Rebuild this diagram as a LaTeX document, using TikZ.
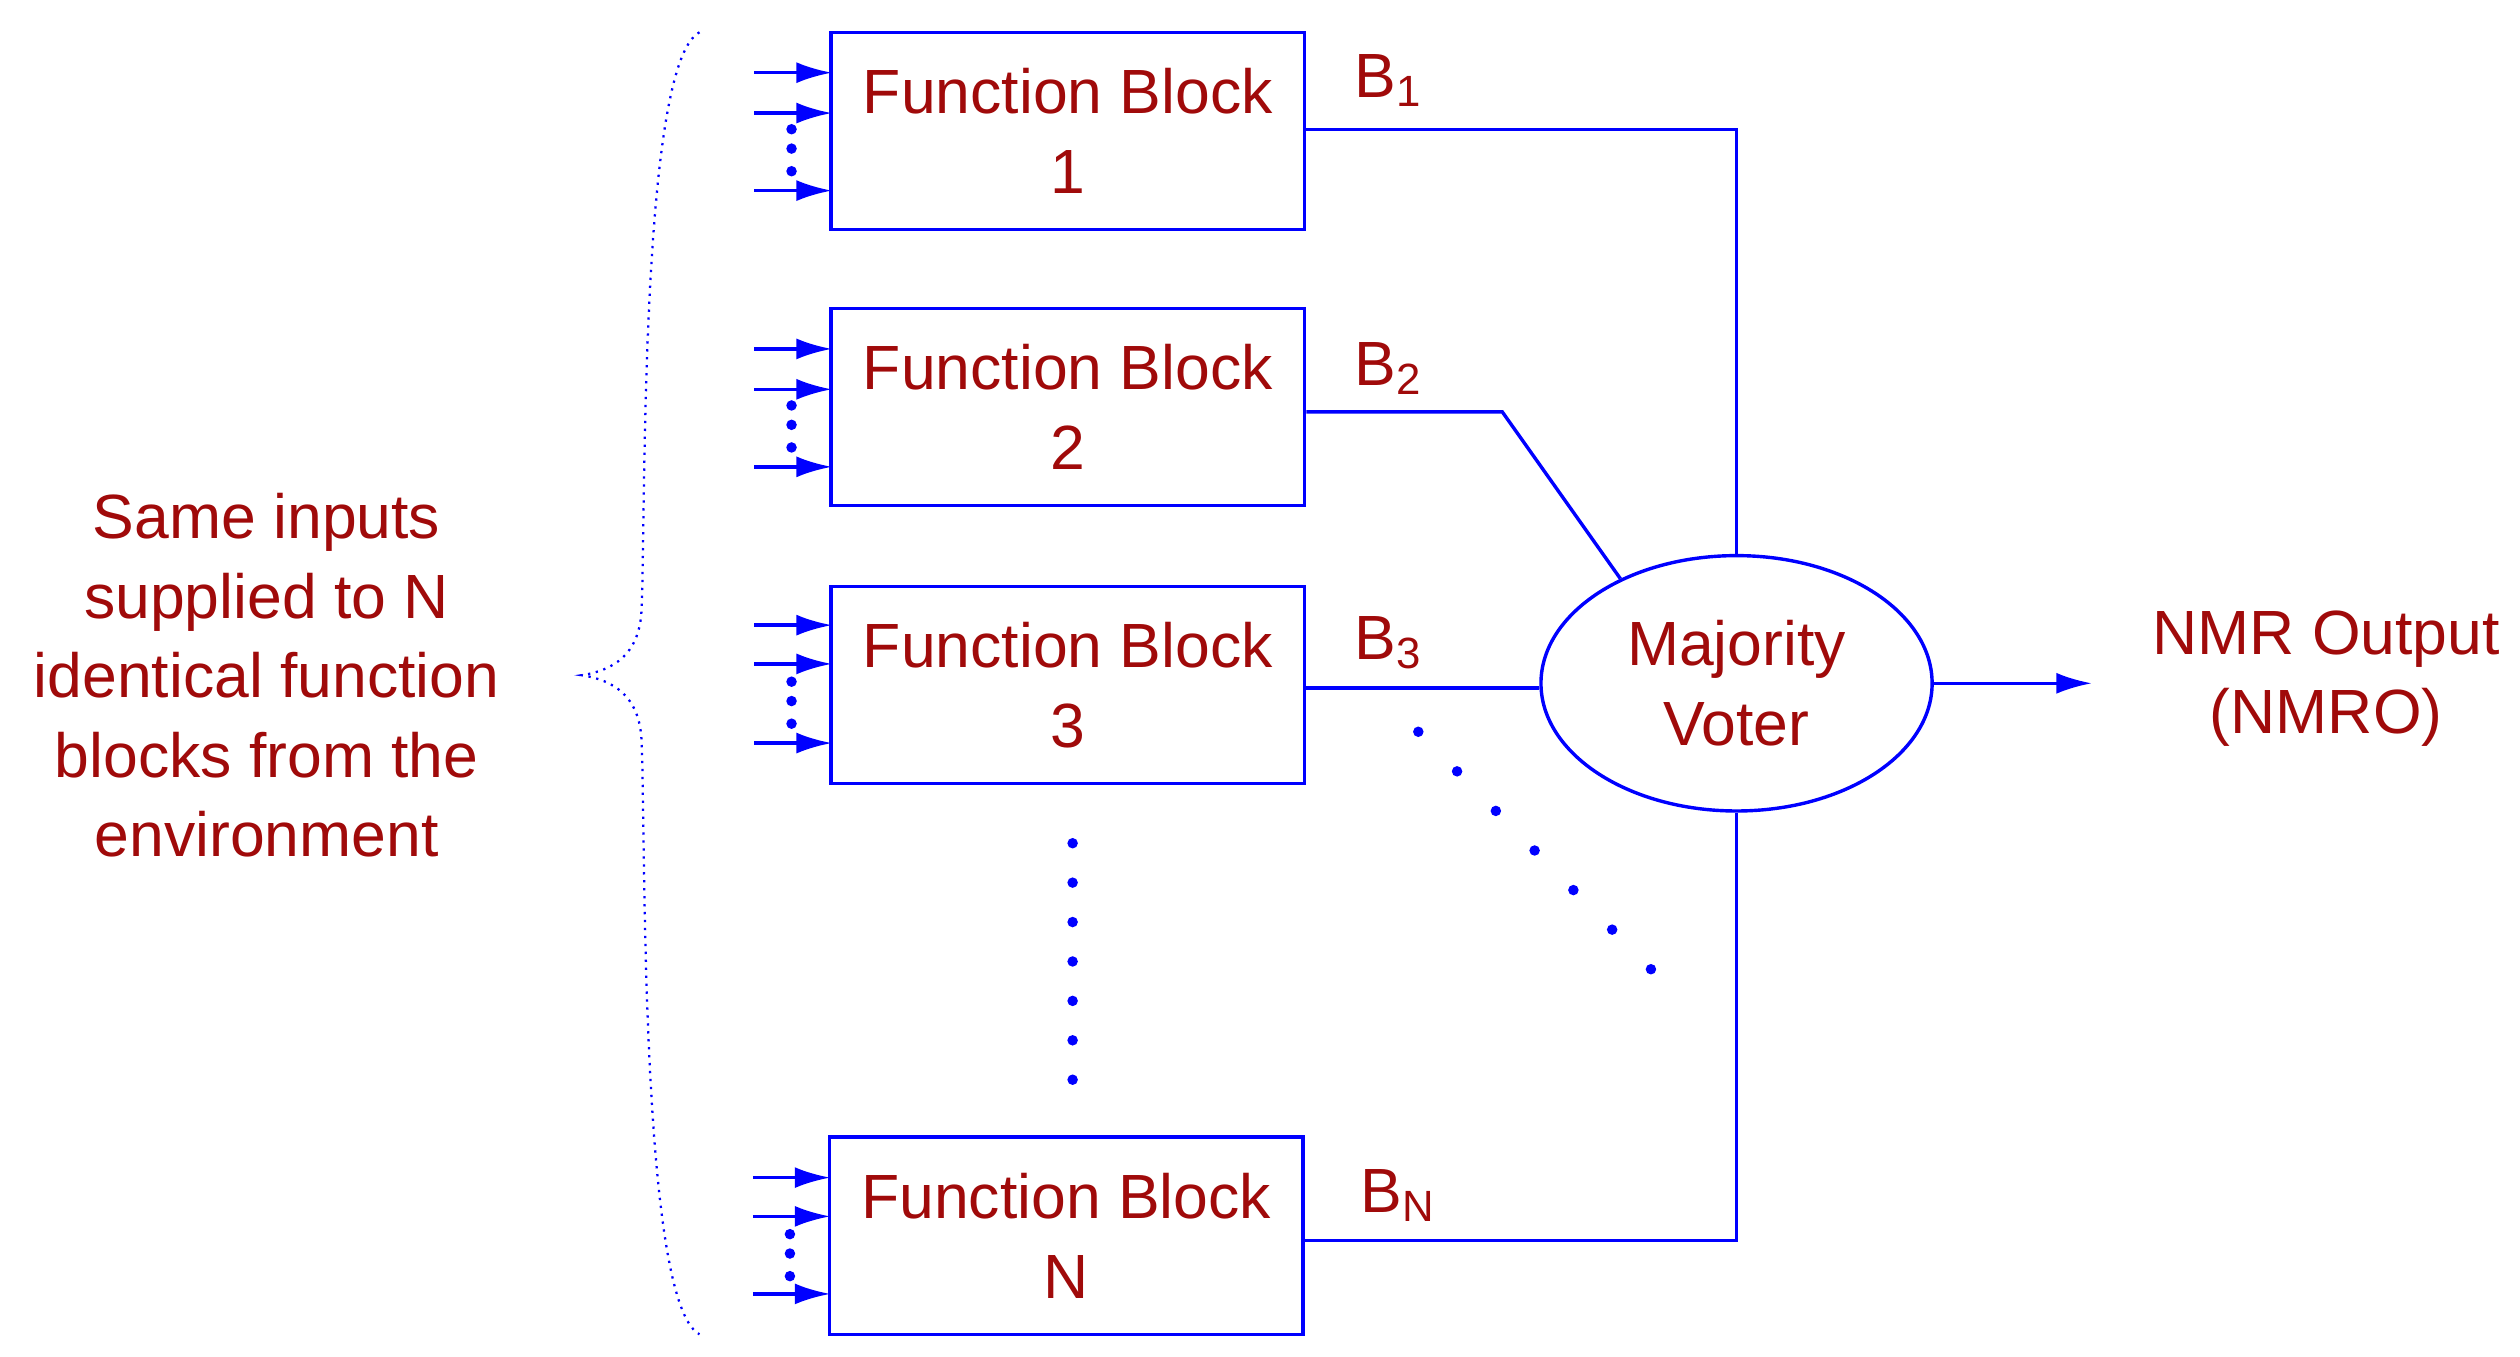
\documentclass[tikz,border=0pt]{standalone}
\usepackage{fontspec}
\setmainfont{Liberation Sans}
\usetikzlibrary{shapes,arrows.meta}
\definecolor{txtred}{RGB}{160,10,10}
\begin{document}
\begin{tikzpicture}[x=0.01cm,y=-0.01cm,
  blk/.style={draw=blue,semithick,minimum width=2.93cm,minimum height=1.22cm,text=txtred,align=center,font=\fontsize{11}{14}\selectfont,inner sep=0pt},
  lbl/.style={text=txtred,font=\fontsize{11}{14}\selectfont},
  wire/.style={blue,semithick},
  inarr/.style={blue,semithick,-{Latex[length=2.2mm,width=1.3mm]}},
  dot/.style={fill=blue,circle,inner sep=0pt,minimum size=0.65mm}]
\useasboundingbox (0,0) rectangle (1560,840);
\node[blk] (f1) at (661,81) {Function Block\\1};
\node[blk] (f2) at (661,252) {Function Block\\2};
\node[blk] (f3) at (661,424) {Function Block\\3};
\node[blk] (fn) at (660,765) {Function Block\\N};
\node[draw=blue,semithick,ellipse,minimum width=2.42cm,minimum height=1.58cm,text=txtred,align=center,font=\fontsize{11}{14}\selectfont] (mv) at (1075,423) {Majority\\Voter};
% inputs
\foreach \y in {45,70,118,216,241,289,387,411,460}{
  \draw[inarr] (467,\y) -- (515,\y);}
\foreach \y in {729,753,801}{
  \draw[inarr] (466,\y) -- (514,\y);}
\foreach \y in {80,92,106,251,263,277,422,434,448}{
  \node[dot] at (490,\y) {};}
\foreach \y in {764,776,790}{
  \node[dot] at (489,\y) {};}
% outputs
\draw[wire] (f1.east |- 0,80) -| (mv.north);
\draw[wire] (f2.east |- 0,255) -- (930,255) -- (mv.138);
\draw[wire] (f3.east |- 0,426) -- (mv.west |- 0,426);
\draw[wire] (fn.east |- 0,768) -| (mv.south);
\coordinate (out) at (1295,423);
\draw[inarr] (mv.east) -- (out);
\node[lbl] (b1) at (860,50) {B\textsubscript{1}};
\node[lbl] (b2) at (860,228) {B\textsubscript{2}};
\node[lbl] (b3) at (860,398) {B\textsubscript{3}};
\node[lbl] (bn) at (866,740) {B\textsubscript{N}};
% dots
\foreach \i in {0,...,6}{
  \node[dot] at (664,522+24.4*\i) {};
  \node[dot] at (878+24*\i,453+24.5*\i) {};}
% brace
\draw[blue,densely dotted] (433,20) .. controls (395,40) and (400,330) .. (397,380)
  .. controls (395,405) and (380,415) .. (360,418)
  .. controls (380,421) and (395,431) .. (397,456)
  .. controls (400,506) and (395,806) .. (433,826);
\node[lbl,align=center] (src) at (165,418) {Same inputs\\supplied to N\\identical function\\blocks from the\\environment};
\node[lbl,align=center] (nmr) at (1440,420) {NMR Output\\(NMRO)};
\end{tikzpicture}
\end{document}
